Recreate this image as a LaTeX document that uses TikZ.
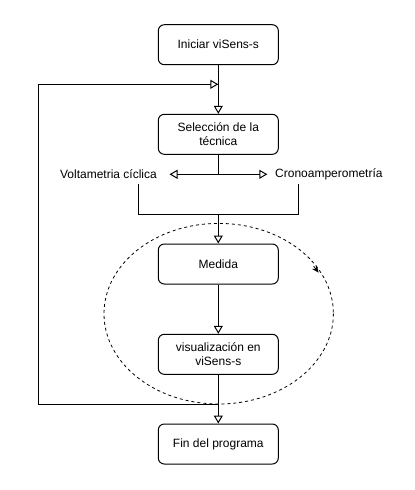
\documentclass[tikz,border=0pt]{standalone}
\usepackage{fontspec}
\setmainfont{Liberation Sans}
\usetikzlibrary{arrows.meta,calc}
\begin{document}
\begin{tikzpicture}[x=1pt,y=-1pt,
  box/.style={draw, line width=1pt, rounded corners=6pt, minimum width=120pt, minimum height=40pt, align=center, font=\fontsize{12}{14}\selectfont, inner sep=2pt},
  lbl/.style={font=\fontsize{12}{14}\selectfont, inner sep=0pt},
  con/.style={line width=1pt},
  tri/.style={-{Triangle[open, length=8pt, width=9pt, fill=white]}, line width=1pt},
  loop/.style={dash pattern=on 3pt off 3pt, line width=0.8pt}]
\useasboundingbox (0,0) rectangle (415,490);
\node[box] (start) at (218.3,44.7) {Iniciar viSens-s};
\node[box] (sel) at (218.3,134.3) {Selección de la\\técnica};
\node[box] (med) at (218.3,264) {Medida};
\node[box] (vis) at (218.3,354.3) {visualización en\\viSens-s};
\node[box] (fin) at (218.3,444) {Fin del programa};
\node[lbl, anchor=east] (volt) at (157,174.3) {Voltametria cíclica};
\node[lbl, anchor=west] (crono) at (275,174.3) {Cronoamperometría};
% ellipse loop
\draw[loop] (218.7,313.7) ellipse [x radius=114.7, y radius=90.3];
\coordinate (arrtip) at (318.6,272.6);
\coordinate (arrtail) at ($(arrtip)+(-5,-6.5)$);
\draw[-{Stealth[length=7pt,width=6pt]}, line width=0.8pt] (arrtail) -- (arrtip);
% coordinates
\coordinate (jsel) at (218.3,174.3);
\coordinate (voltend) at (169.5,174.3);
\coordinate (cronoend) at (267.3,174.3);
\coordinate (vl) at (138.3,184.3);
\coordinate (vr) at (298.3,184.3);
\coordinate (jmerge) at (218.3,214.3);
\coordinate (jloop) at (218.3,84.3);
\coordinate (jbot) at (218.3,404.3);
\coordinate (lt) at (38.7,84.3);
\coordinate (lb) at (38.7,404.3);
% connectors
\draw[con] (start.south) -- (jloop);
\draw[tri] (jloop) -- (sel.north);
\draw[con] (sel.south) -- (jsel);
\draw[tri] (jsel) -- (voltend);
\draw[tri] (jsel) -- (cronoend);
\draw[con] (vl) |- (jmerge) -| (vr);
\draw[tri] (jmerge) -- (med.north);
\draw[tri] (med.south) -- (vis.north);
\draw[tri] (vis.south) -- (fin.north);
\draw[tri] (jbot) -- (lb) -- (lt) -- (jloop);
\end{tikzpicture}
\end{document}
